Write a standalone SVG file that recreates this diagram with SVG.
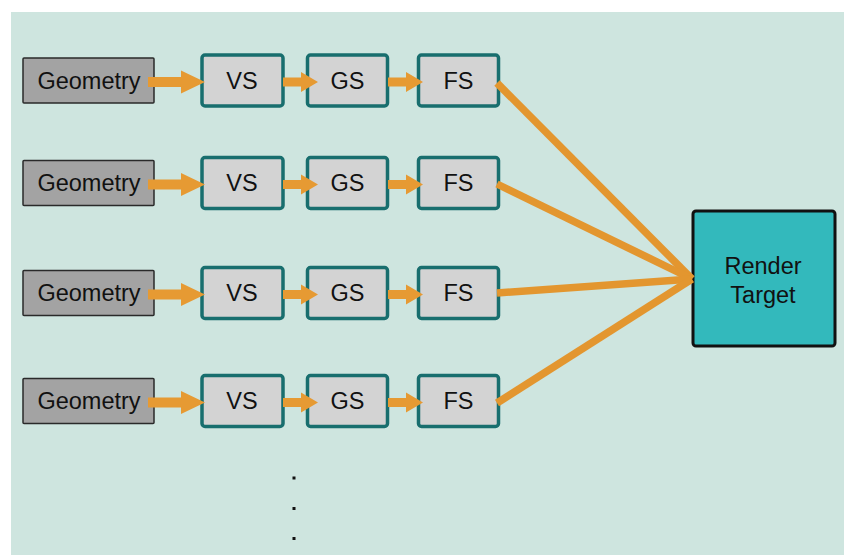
<svg xmlns="http://www.w3.org/2000/svg" width="844" height="555" viewBox="0 0 844 555">
<style>
.t{font-family:"Liberation Sans",Arial,sans-serif;font-size:23.5px;fill:#111;text-anchor:middle}
.geo{fill:#a3a3a3;stroke:#2a2a2a;stroke-width:1.5}
.sh{fill:#d3d3d3;stroke:#186e6e;stroke-width:3.5}
.ar{fill:#e69a33}
.ln{stroke:#e3962f;stroke-width:7.5;fill:none;stroke-linecap:butt}
</style>
<defs>
<path id="big" d="M0,-5 H33 V-11.5 L57,0 L33,11.5 V5 H0 Z"/>
<path id="small" d="M0,-4.5 H18 V-10 L35,0 L18,10 V4.5 H0 Z"/>
</defs>
<rect width="844" height="555" fill="#ffffff"/>
<rect x="11" y="12" width="833" height="543" fill="#cee5df"/>

<g id="row1">
<g id="geo1"><rect class="geo" x="23" y="58" width="131" height="45" rx="1"/><text class="t" x="89" y="88.5">Geometry</text></g>
<g id="vs1"><rect class="sh" x="202" y="55" width="81" height="51" rx="3"/><text class="t" x="242" y="88.5">VS</text></g>
<g id="gs1"><rect class="sh" x="307.5" y="55" width="80" height="51" rx="3"/><text class="t" x="347.5" y="88.5">GS</text></g>
<g id="fs1"><rect class="sh" x="418.5" y="55" width="80" height="51" rx="3"/><text class="t" x="458.5" y="88.5">FS</text></g>
</g>
<g id="row2">
<g id="geo2"><rect class="geo" x="23" y="160.5" width="131" height="45" rx="1"/><text class="t" x="89" y="191">Geometry</text></g>
<g id="vs2"><rect class="sh" x="202" y="157.5" width="81" height="51" rx="3"/><text class="t" x="242" y="191">VS</text></g>
<g id="gs2"><rect class="sh" x="307.5" y="157.5" width="80" height="51" rx="3"/><text class="t" x="347.5" y="191">GS</text></g>
<g id="fs2"><rect class="sh" x="418.5" y="157.5" width="80" height="51" rx="3"/><text class="t" x="458.5" y="191">FS</text></g>
</g>
<g id="row3">
<g id="geo3"><rect class="geo" x="23" y="270.5" width="131" height="45" rx="1"/><text class="t" x="89" y="301">Geometry</text></g>
<g id="vs3"><rect class="sh" x="202" y="267.5" width="81" height="51" rx="3"/><text class="t" x="242" y="301">VS</text></g>
<g id="gs3"><rect class="sh" x="307.5" y="267.5" width="80" height="51" rx="3"/><text class="t" x="347.5" y="301">GS</text></g>
<g id="fs3"><rect class="sh" x="418.5" y="267.5" width="80" height="51" rx="3"/><text class="t" x="458.5" y="301">FS</text></g>
</g>
<g id="row4">
<g id="geo4"><rect class="geo" x="23" y="378.5" width="131" height="45" rx="1"/><text class="t" x="89" y="409">Geometry</text></g>
<g id="vs4"><rect class="sh" x="202" y="375.5" width="81" height="51" rx="3"/><text class="t" x="242" y="409">VS</text></g>
<g id="gs4"><rect class="sh" x="307.5" y="375.5" width="80" height="51" rx="3"/><text class="t" x="347.5" y="409">GS</text></g>
<g id="fs4"><rect class="sh" x="418.5" y="375.5" width="80" height="51" rx="3"/><text class="t" x="458.5" y="409">FS</text></g>
</g>

<g id="render-target">
<rect x="693" y="211" width="142" height="135" rx="3" fill="#33b9bc" stroke="#111" stroke-width="3"/>
<text class="t" x="763" y="274">Render</text>
<text class="t" x="763" y="303">Target</text>
</g>

<g id="dots" fill="#111">
<rect x="292.5" y="476.5" width="3" height="3"/>
<rect x="292.5" y="507" width="3" height="3"/>
<rect x="292.5" y="537" width="3" height="3"/>
</g>

<g id="connectors">
<g class="ar">
<use href="#big" x="148" y="82"/>
<use href="#small" x="283" y="82"/>
<use href="#small" x="388" y="82"/>
<use href="#big" x="148" y="184.5"/>
<use href="#small" x="283" y="184.5"/>
<use href="#small" x="388" y="184.5"/>
<use href="#big" x="148" y="294.5"/>
<use href="#small" x="283" y="294.5"/>
<use href="#small" x="388" y="294.5"/>
<use href="#big" x="148" y="402.5"/>
<use href="#small" x="283" y="402.5"/>
<use href="#small" x="388" y="402.5"/>
</g>
<path class="ln" d="M497,83 L692,279"/>
<path class="ln" d="M497,184 L692,279"/>
<path class="ln" d="M497,293 L692,279"/>
<path class="ln" d="M497,403 L692,279"/>
</g>
</svg>
